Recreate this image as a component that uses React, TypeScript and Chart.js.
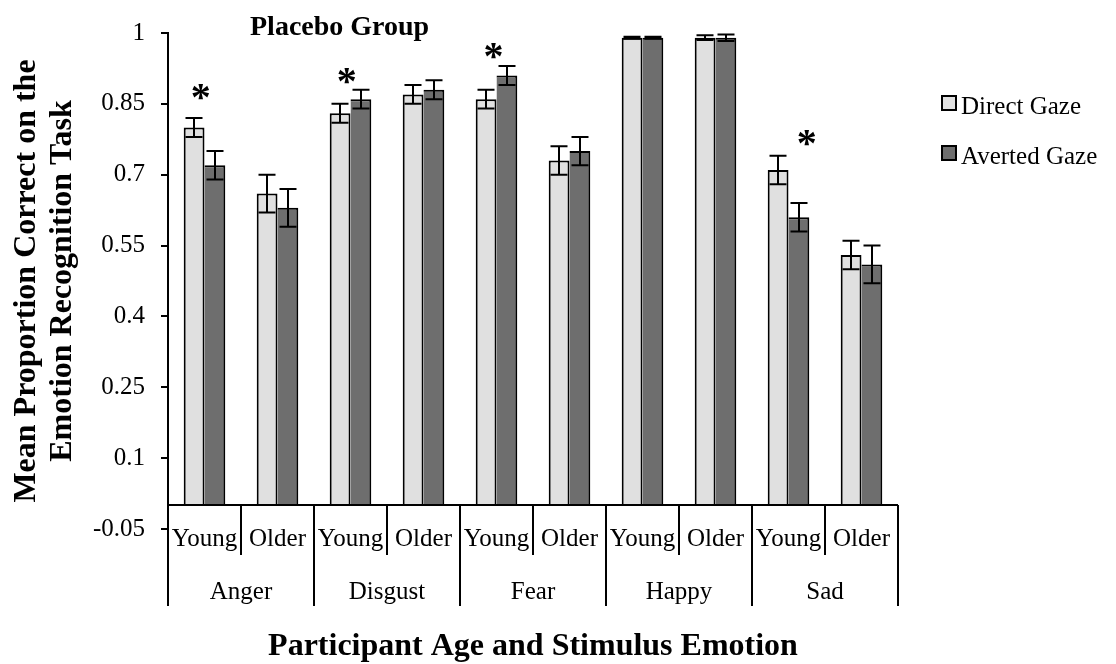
import React, { useEffect, useRef } from "react";
import { Chart, registerables } from "chart.js";

Chart.register(...registerables);

// ---- data ----
const ageLabels = ["Young", "Older", "Young", "Older", "Young", "Older", "Young", "Older", "Young", "Older"];
const emotionLabels = ["Anger", "Disgust", "Fear", "Happy", "Sad"];
const seriesNames = ["Direct Gaze", "Averted Gaze"];
const directGaze = [0.80, 0.66, 0.83, 0.87, 0.86, 0.73, 0.99, 0.99, 0.71, 0.53];
const avertedGaze = [0.72, 0.63, 0.86, 0.88, 0.91, 0.75, 0.99, 0.99, 0.61, 0.51];
const directErr = [0.02, 0.04, 0.02, 0.02, 0.02, 0.03, 0.002, 0.005, 0.03, 0.03];
const avertedErr = [0.03, 0.04, 0.02, 0.02, 0.02, 0.03, 0.002, 0.007, 0.03, 0.04];
const yTickValues = [-0.05, 0.1, 0.25, 0.4, 0.55, 0.7, 0.85, 1];
const sigCategories = [0, 2, 4, 8];
const sigValues = [0.875, 0.909, 0.962, 0.777];
const sigOffsets = [-0.05, -0.05, -0.04, 0.25];

const chartTitle = "Placebo Group";
const xTitle = "Participant Age and Stimulus Emotion";
const yTitle = ["Mean Proportion Correct on the", "Emotion Recognition Task"];

const FONT = "'Liberation Serif', 'Times New Roman', Times, serif";
const LIGHT = "#e0e0e0";
const DARK = "#6e6e6e";

const overlayPlugin = {
  id: "overlay",
  afterDatasetsDraw(chart: any) {
    const { ctx, chartArea } = chart;
    const xs = chart.scales.x;
    const ys = chart.scales.y;
    const errs = [directErr, avertedErr];
    ctx.save();
    ctx.strokeStyle = "#000";
    ctx.lineWidth = 2;
    // error bars
    chart.data.datasets.forEach((ds: any, di: number) => {
      const meta = chart.getDatasetMeta(di);
      meta.data.forEach((bar: any, i: number) => {
        const v = ds.data[i];
        const e = errs[di][i];
        const yt = ys.getPixelForValue(v + e);
        const yb = ys.getPixelForValue(v - e);
        const cx = Math.round(bar.x);
        ctx.beginPath();
        ctx.moveTo(cx, yt);
        ctx.lineTo(cx, yb);
        ctx.moveTo(cx - 8.5, yt);
        ctx.lineTo(cx + 8.5, yt);
        ctx.moveTo(cx - 8.5, yb);
        ctx.lineTo(cx + 8.5, yb);
        ctx.stroke();
      });
    });

    // category axis at value 0
    const y0 = Math.round(ys.getPixelForValue(0));
    const n = ageLabels.length;
    const w = (chartArea.right - chartArea.left) / n;
    ctx.beginPath();
    ctx.moveTo(chartArea.left, y0);
    ctx.lineTo(chartArea.right, y0);
    ctx.stroke();
    for (let i = 0; i <= n; i++) {
      const bx = Math.round(xs.getPixelForValue(0) - w / 2 + i * w);
      const end = i % 2 === 0 ? y0 + 101 : y0 + 50;
      ctx.beginPath();
      ctx.moveTo(bx, y0);
      ctx.lineTo(bx, end);
      ctx.stroke();
    }
    ctx.fillStyle = "#000";
    ctx.textAlign = "center";
    ctx.textBaseline = "alphabetic";
    ctx.font = `25px ${FONT}`;
    ageLabels.forEach((lab, i) => {
      ctx.fillText(lab, xs.getPixelForValue(i), y0 + 41);
    });
    emotionLabels.forEach((lab, g) => {
      const cx = (xs.getPixelForValue(g * 2) + xs.getPixelForValue(g * 2 + 1)) / 2;
      ctx.fillText(lab, cx, y0 + 94);
    });

    // significance asterisks
    ctx.font = `bold 40px ${FONT}`;
    sigCategories.forEach((c, k) => {
      const m = ctx.measureText("*");
      const gx = xs.getPixelForValue(c) + sigOffsets[k] * w;
      const gy = ys.getPixelForValue(sigValues[k]);
      const off = (m.actualBoundingBoxAscent - m.actualBoundingBoxDescent) / 2;
      ctx.fillText("*", gx, gy + off);
    });
    ctx.restore();
  },
  afterDraw(chart: any) {
    const { ctx, chartArea } = chart;
    ctx.save();
    ctx.fillStyle = "#000";
    // chart title
    ctx.font = `bold 28px ${FONT}`;
    ctx.textAlign = "left";
    ctx.textBaseline = "alphabetic";
    ctx.fillText(chartTitle, 250, 35);
    // x title
    ctx.font = `bold 32px ${FONT}`;
    ctx.textAlign = "center";
    ctx.fillText(xTitle, (chartArea.left + chartArea.right) / 2, 655);
    // legend
    ctx.font = `25px ${FONT}`;
    ctx.textAlign = "left";
    const colors = [LIGHT, DARK];
    seriesNames.forEach((name, i) => {
      const by = 96 + i * 50;
      ctx.fillStyle = colors[i];
      ctx.fillRect(942, by, 14, 14);
      ctx.strokeStyle = "#000";
      ctx.lineWidth = 2;
      ctx.strokeRect(942, by, 14, 14);
      ctx.fillStyle = "#000";
      ctx.fillText(name, 961, by + 18);
    });
    ctx.restore();
  },
};

export default function App() {
  const ref = useRef<HTMLCanvasElement | null>(null);
  useEffect(() => {
    if (!ref.current) return;
    const chart = new Chart(ref.current, {
      type: "bar",
      data: {
        labels: ageLabels,
        datasets: [
          {
            label: seriesNames[0],
            data: directGaze,
            backgroundColor: LIGHT,
            borderColor: "#000",
            borderWidth: { top: 2, right: 2, bottom: 0, left: 2 },
            borderSkipped: "start",
            categoryPercentage: 0.57,
            barPercentage: 1,
          },
          {
            label: seriesNames[1],
            data: avertedGaze,
            backgroundColor: DARK,
            borderColor: "#000",
            borderWidth: { top: 2, right: 2, bottom: 0, left: 0 },
            borderSkipped: "start",
            categoryPercentage: 0.57,
            barPercentage: 1,
          },
        ],
      },
      options: {
        responsive: false,
        animation: false,
        devicePixelRatio: 1,
        layout: { padding: { top: 33, bottom: 135, left: 0, right: 218 } },
        plugins: {
          legend: { display: false },
          tooltip: { enabled: false },
          title: { display: false },
        },
        scales: {
          x: { display: false, offset: true },
          y: {
            min: -0.05,
            max: 1,
            afterBuildTicks: (s: any) => {
              s.ticks = yTickValues.map((v) => ({ value: v }));
            },
            afterFit: (s: any) => {
              s.width = 168;
            },
            ticks: {
              color: "#000",
              padding: 16,
              font: { family: FONT, size: 25 },
              callback: (v: any) => String(Number(Number(v).toFixed(2))),
            },
            grid: {
              display: true,
              drawOnChartArea: false,
              drawTicks: true,
              tickLength: 7,
              color: "#000",
              lineWidth: 2,
            },
            border: { display: true, color: "#000", width: 2 },
            title: {
              display: true,
              text: yTitle,
              color: "#000",
              font: { family: FONT, size: 32, weight: "bold", lineHeight: 1.14 },
              padding: { top: 8, bottom: 0 },
            },
          },
        },
      },
      plugins: [overlayPlugin],
    } as any);
    return () => chart.destroy();
  }, []);
  return (
    <div style={{ position: "fixed", left: 0, top: 0, width: 1116, height: 664, background: "#fff" }}>
      <canvas ref={ref} width={1116} height={664} style={{ display: "block" }} />
    </div>
  );
}
